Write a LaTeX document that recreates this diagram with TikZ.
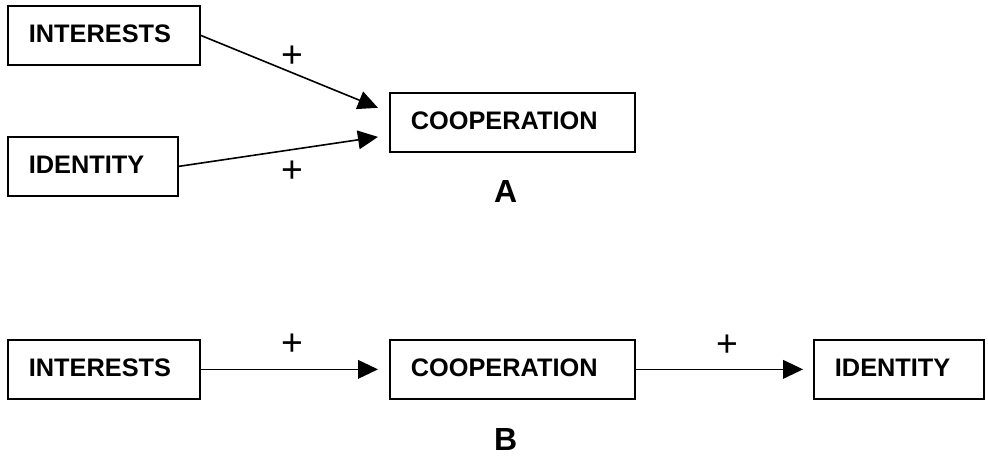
\documentclass[tikz,border=0pt]{standalone}
\usepackage{fontspec}
\setmainfont{Liberation Sans}
\usetikzlibrary{positioning,arrows.meta}

\begin{document}
\begin{tikzpicture}[x=0.75pt, y=-0.75pt,
		box/.style={draw, line width=1.3pt, text width=#1, align=left, inner xsep=15.75pt, inner ysep=0pt, text depth=2.5pt, minimum height=44.25pt, font=\fontsize{19}{22}\selectfont\bfseries},
		plus/.style={font=\fontsize{28}{30}\selectfont, inner sep=0pt},
		tag/.style={font=\fontsize{24}{28}\selectfont\bfseries, inner sep=0pt, xshift=-5pt},
		arr/.style={line width=1.2pt, -{Triangle[length=15pt, width=14pt]}}]
					\useasboundingbox (0,0) rectangle (988,456);
					
					\node [box=112.5pt, anchor=north west] (intA) at (7,5) {INTERESTS};
					\node [box=96pt, below=52.7pt of intA.south west, anchor=north west] (idA) {IDENTITY};
					\node [box=152.25pt, below right=19.7pt and 141.2pt of intA] (coopA) {COOPERATION};
					\node [tag, below=20.75pt of coopA] (labA) {A};
					
					\node [box=112.5pt, anchor=north west] (intB) at (7,339) {INTERESTS};
					\node [box=152.25pt, right=141.2pt of intB] (coopB) {COOPERATION};
					\node [box=96pt, right=133pt of coopB] (idB) {IDENTITY};
					\node [tag, below=21.5pt of coopB] (labB) {B};
					
					\node [plus] (pA1) at (292,57) {+};
					\node [plus] (pA2) at (292,172) {+};
					\node [plus] (pB1) at (292,345) {+};
					\node [plus] (pB2) at (727,346) {+};
					
					\draw [arr] (intA.east) -- ([xshift=-8.25pt, yshift=10.9pt]coopA.west);
					\draw [arr] (idA.east) -- ([xshift=-8.25pt, yshift=-10.9pt]coopA.west);
					
					\draw [arr, shorten >=8.25pt] (intB) -- (coopB);
					\draw [arr, shorten >=7.5pt] (coopB) -- (idB);
				\end{tikzpicture}
\end{document}
